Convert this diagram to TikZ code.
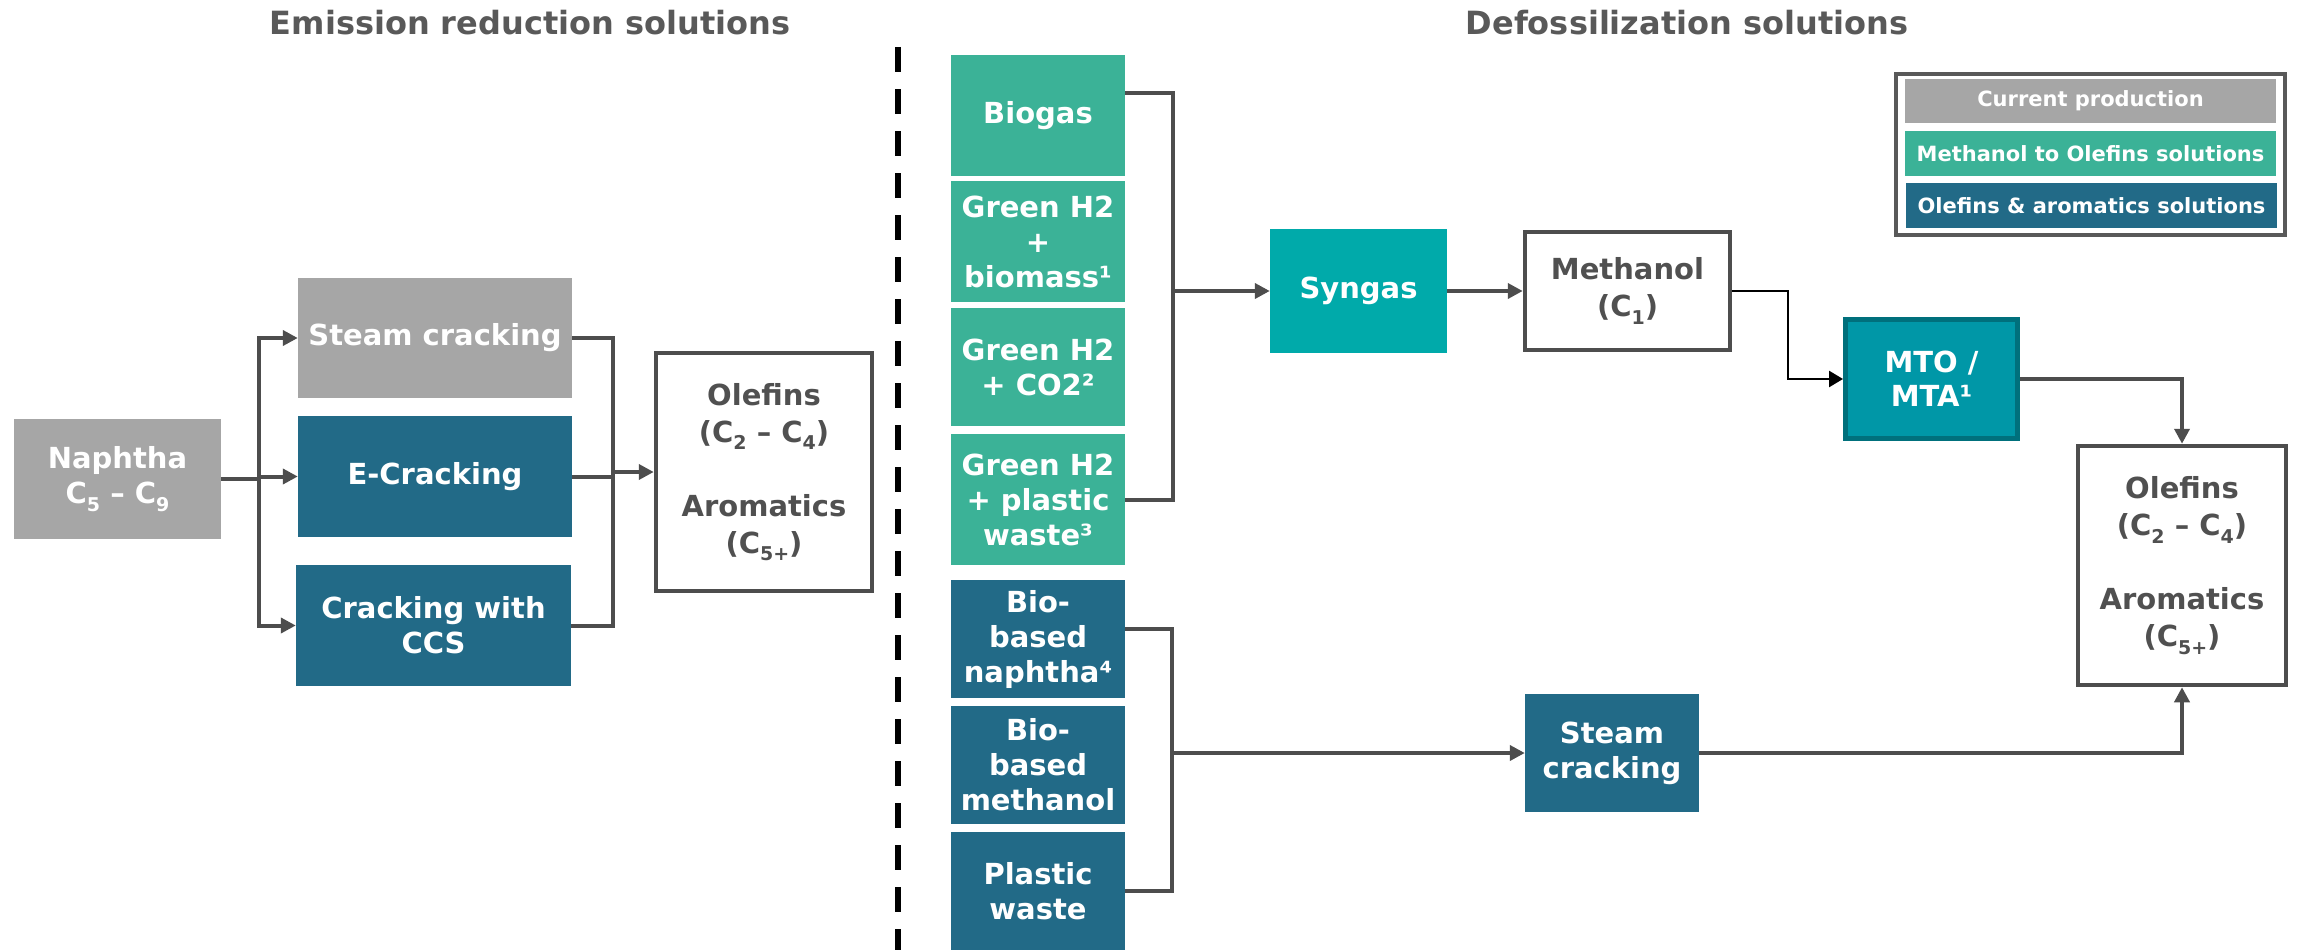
\documentclass[tikz,border=0pt]{standalone}
\usepackage{fontspec}
\setmainfont{DejaVu Sans}
\usetikzlibrary{arrows.meta,calc}
\definecolor{cgray}{HTML}{A6A6A6}
\definecolor{cgreen}{HTML}{3BB297}
\definecolor{cblue}{HTML}{226A87}
\definecolor{csyn}{HTML}{00AAAA}
\definecolor{cmto}{HTML}{0097A7}
\definecolor{cmtob}{HTML}{00707C}
\definecolor{ctext}{HTML}{505050}
\definecolor{ctitle}{HTML}{595959}
\definecolor{cline}{HTML}{4D4D4D}
\newcommand\mysub[1]{\raisebox{-0.25em}{\fontsize{19}{19}\selectfont #1}}
\begin{document}
\begin{tikzpicture}[x=1pt,y=-1pt,
  box/.style={rectangle, inner sep=0pt, align=center, font=\fontsize{29}{35}\selectfont\bfseries, text=white},
  grayb/.style={box, fill=cgray},
  greenb/.style={box, fill=cgreen},
  blueb/.style={box, fill=cblue},
  whiteb/.style={box, fill=white, draw=cline, line width=4.5pt, text=ctext, font=\fontsize{29}{37}\selectfont\bfseries},
  conn/.style={draw=cline, line width=4pt},
  arr/.style={conn, -{Triangle[length=15pt,width=15pt]}},
  thinarr/.style={draw=black, line width=2.5pt, -{Triangle[length=14pt,width=16pt]}},
  titletext/.style={anchor=base, text=ctitle, font=\fontsize{32}{38}\selectfont\bfseries},
  legitem/.style={box, font=\fontsize{21}{25}\selectfont\bfseries, minimum width=371pt, minimum height=44pt}
]
\useasboundingbox (0,0) rectangle (2300,950);
\fill[white] (0,0) rectangle (2300,950);

% titles
\node[titletext] (t1) at (530,35) {Emission reduction solutions};
\node[titletext] (t2) at (1687,35) {Defossilization solutions};

% dashed divider
\coordinate (d1) at (898,47);
\coordinate (d2) at (898,950);
\draw[black, line width=6pt, dash pattern=on 25pt off 17pt] (d1) -- (d2);

% left side
\node[grayb, minimum width=207pt, minimum height=120pt] (naph) at (117.5,479) {Naphtha\\C\mysub{5} – C\mysub{9}};
\node[grayb, minimum width=274pt, minimum height=120pt] (sc1) at (435,338) {Steam cracking};
\node[blueb, minimum width=274pt, minimum height=121pt] (ec) at (435,476.5) {E-Cracking};
\node[blueb, minimum width=275pt, minimum height=121pt] (ccs) at (433.5,625.5) {Cracking with\\CCS};
\node[whiteb, minimum width=216pt, minimum height=238pt] (ol1) at (764,472) {Olefins\\(C\mysub{2} – C\mysub{4})\\[37pt]Aromatics\\(C\mysub{5+})};

\coordinate (jl) at (259,479);
\coordinate (jr) at (613,472);
\draw[conn] (naph.east) -- (jl);
\draw[arr] (jl) |- (sc1.west);
\draw[arr] (jl) |- (ec.west);
\draw[arr] (jl) |- (ccs.west);
\draw[conn] (sc1.east) -| (jr);
\draw[conn] (ccs.east) -| (jr);
\draw[conn] (ec.east) -| (jr);
\draw[arr] (jr) -- (ol1.west);

% right side inputs
\node[greenb, minimum width=174pt, minimum height=121pt] (bio) at (1038,115.5) {Biogas};
\node[greenb, minimum width=174pt, minimum height=121pt] (gh1) at (1038,241.5) {Green H2\\+\\biomass¹};
\node[greenb, minimum width=174pt, minimum height=118pt] (gh2) at (1038,367) {Green H2\\+ CO2²};
\node[greenb, minimum width=174pt, minimum height=131pt] (gh3) at (1038,499.5) {Green H2\\+ plastic\\waste³};
\node[blueb, minimum width=174pt, minimum height=118pt] (bn) at (1038,639) {Bio-\\based\\naphtha⁴};
\node[blueb, minimum width=174pt, minimum height=118pt] (bm) at (1038,765) {Bio-\\based\\methanol};
\node[blueb, minimum width=174pt, minimum height=118pt] (pw) at (1038,891) {Plastic\\waste};

% process nodes
\node[box, fill=csyn, minimum width=177pt, minimum height=124pt] (syn) at (1358.5,291) {Syngas};
\node[whiteb, minimum width=205pt, minimum height=118pt, font=\fontsize{29}{37}\selectfont\bfseries] (meth) at (1627.5,291) {Methanol\\(C\mysub{1})};
\node[box, fill=cmto, draw=cmtob, line width=5pt, minimum width=172pt, minimum height=119pt, font=\fontsize{29}{34}\selectfont\bfseries] (mto) at (1931.5,379) {MTO /\\MTA¹};
\node[whiteb, minimum width=208pt, minimum height=239pt] (ol2) at (2182,565.5) {Olefins\\(C\mysub{2} – C\mysub{4})\\[37pt]Aromatics\\(C\mysub{5+})};
\node[blueb, minimum width=174pt, minimum height=118pt] (sc2) at (1612,753) {Steam\\cracking};

% bracket 1
\coordinate (b1t) at (1173,93);
\coordinate (b1a) at (1173,291);
\draw[conn] (bio.east |- b1t) -- (b1t) |- (gh3.east);
\draw[arr] (b1a) -- (syn.west);
\draw[arr] (syn.east) -- (meth.west);
\coordinate (mj) at (1788,291);
\draw[thinarr] (meth.east) -- (mj) |- (mto.west);
\draw[arr] (mto.east) -| (ol2.north);

% bracket 2
\coordinate (b2t) at (1172,629);
\coordinate (b2a) at (1172,753);
\draw[conn] (bn.east |- b2t) -- (b2t) |- (pw.east);
\draw[arr] (b2a) -- (sc2.west);
\draw[arr] (sc2.east) -| (ol2.south);

% legend
\node[draw=ctitle, line width=4pt, fill=white, minimum width=389pt, minimum height=161pt, inner sep=0pt] (leg) at (2090.5,154.5) {};
\node[legitem, fill=cgray] (lg1) at (2090.5,101) {Current production};
\node[legitem, fill=cgreen, minimum height=45pt] (lg2) at (2090.5,153.5) {Methanol to Olefins solutions};
\node[legitem, fill=cblue, minimum height=45pt] (lg3) at (2091.5,205.5) {Olefins \& aromatics solutions};
\end{tikzpicture}
\end{document}
